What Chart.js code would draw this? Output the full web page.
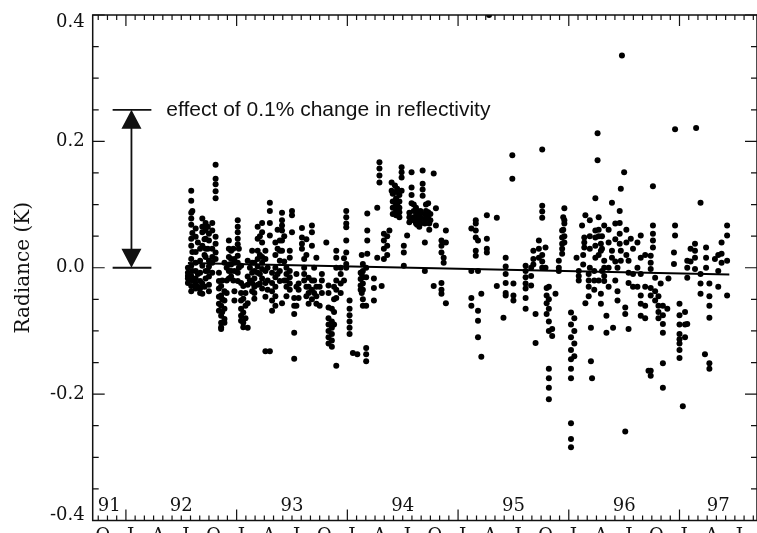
<!DOCTYPE html>
<html>
<head>
<meta charset="utf-8">
<script src="https://cdn.jsdelivr.net/npm/chart.js@4.4.0/dist/chart.umd.min.js"></script>
<style>
  html, body { margin: 0; padding: 0; background: #fff; overflow: hidden; width: 757px; height: 533px; }
  #wrap { position: absolute; left: 0; top: 0; width: 760px; height: 533px; }
</style>
</head>
<body>
<div id="wrap"><canvas id="chart"></canvas></div>
<script>
// Radiance residuals per observing pass: [decimal year, [values in K]]
const obs1992 = [
  [1992.56, [0.0, -0.008, -0.017, -0.024, -0.013]],
  [1992.59, [0.122, 0.106, 0.087, 0.078, 0.068, 0.046, 0.035, 0.014, 0.003, -0.013, -0.029, -0.037]],
  [1992.60, [0.090, 0.055, 0.025, -0.005, -0.020]],
  [1992.63, [0.062, 0.049, 0.025, 0.008, -0.005, -0.017, -0.025, -0.033]],
  [1992.65, [0.040, -0.010, -0.030]],
  [1992.67, [0.030, 0.011, -0.008, -0.021, -0.033, -0.040]],
  [1992.69, [0.078, 0.065, 0.056, 0.035, 0.003, -0.025, -0.041]],
  [1992.71, [0.045, 0.020, -0.030]],
  [1992.72, [0.071, 0.059, 0.046, 0.030, 0.017, -0.005, -0.017]],
  [1992.74, [0.065, 0.030, -0.005]],
  [1992.75, [0.054, 0.043, 0.011, 0.002, -0.014, -0.027, -0.037]],
  [1992.78, [0.071, 0.059, 0.030, 0.017, 0.008, -0.008]],
  [1992.81, [0.163, 0.141, 0.132, 0.121, 0.110, 0.049, 0.038, 0.024, 0.014]],
  [1992.84, [-0.008, -0.021, -0.033, -0.046, -0.057, -0.068]],
  [1992.86, [-0.029, -0.044, -0.060, -0.076, -0.087, -0.094, -0.097]],
  [1992.87, [-0.070, -0.050, -0.020]],
  [1992.89, [0.008, -0.037, -0.052, -0.065, -0.081, -0.087]],
  [1992.91, [0.000, -0.020, -0.040]],
  [1992.93, [0.043, 0.030, 0.017, 0.005, -0.005, -0.017]],
  [1992.95, [0.027, 0.014, 0.005, -0.005, -0.014]],
  [1992.97, [0.030, -0.020]],
  [1992.98, [0.014, 0.008, -0.005, -0.037, -0.052]]
];
const obs1993 = [
  [1993.01, [0.075, 0.065, 0.056, 0.046, 0.037, 0.019, 0.008, -0.008, -0.021]],
  [1993.02, [0.030, 0.000]],
  [1993.04, [0.003, -0.024, -0.040, -0.052, -0.065, -0.076, -0.084]],
  [1993.06, [-0.029, -0.049, -0.071, -0.087, -0.094]],
  [1993.08, [-0.040, -0.060, -0.080]],
  [1993.10, [0.011, -0.014, -0.027, -0.056, -0.095]],
  [1993.12, [0.000, -0.020]],
  [1993.14, [0.027, 0.008, -0.008, -0.024, -0.037]],
  [1993.16, [0.008, -0.005, -0.017, -0.030, -0.040, -0.049]],
  [1993.19, [0.065, 0.046, 0.027, 0.014, 0.002, -0.008, -0.027]],
  [1993.21, [0.050, 0.020, -0.010, -0.025]],
  [1993.23, [0.071, 0.056, 0.040, 0.017, 0.008, -0.002, -0.017, -0.033]],
  [1993.26, [0.027, 0.014, -0.005, -0.024, -0.046, -0.132]],
  [1993.28, [0.000, -0.020, -0.035]],
  [1993.30, [0.103, 0.090, 0.071, 0.051, -0.132]],
  [1993.32, [-0.008, -0.024, -0.037, -0.052, -0.068]],
  [1993.35, [0.040, 0.020, 0.000, -0.015, -0.030, -0.045, -0.060]],
  [1993.37, [0.060, 0.030, -0.010]],
  [1993.39, [0.043, 0.027, 0.011, -0.005, -0.021]],
  [1993.41, [0.087, 0.075, 0.067, 0.059, 0.043, 0.027, -0.056]],
  [1993.43, [0.050, 0.010, -0.020]],
  [1993.45, [0.000, -0.010, -0.020, -0.030, -0.045]],
  [1993.48, [0.027, 0.016, -0.005, -0.015, -0.025, -0.035]],
  [1993.50, [0.090, 0.083, 0.056]],
  [1993.52, [-0.048, -0.060, -0.073, -0.103, -0.144]],
  [1993.54, [-0.010, -0.030, -0.060]],
  [1993.56, [-0.025, -0.035, -0.048]],
  [1993.59, [0.063, 0.048, 0.038, 0.030]],
  [1993.61, [0.014, 0.000, -0.010, -0.020]],
  [1993.63, [0.045, 0.020, -0.030, -0.045]],
  [1993.65, [-0.016, -0.030, -0.040, -0.057]],
  [1993.68, [0.067, 0.056, 0.035, -0.020, -0.035, -0.050]],
  [1993.70, [0.000, -0.020, -0.040]],
  [1993.72, [0.016, -0.030, -0.045, -0.057]],
  [1993.75, [-0.030, -0.060]],
  [1993.77, [-0.010, -0.020, -0.040]],
  [1993.81, [0.040]],
  [1993.83, [-0.028, -0.040, -0.063, -0.080, -0.090, -0.100, -0.110, -0.120]],
  [1993.86, [-0.065, -0.085, -0.095, -0.105, -0.115, -0.125]],
  [1993.88, [-0.030, -0.050, -0.070, -0.090]],
  [1993.90, [0.027, 0.016, 0.000, -0.020, -0.035, -0.048, -0.155]],
  [1993.94, [0.000, -0.010, -0.025, -0.040]],
  [1993.97, [0.015, -0.020]],
  [1993.99, [0.090, 0.080, 0.070, 0.064, 0.043, 0.024, 0.006, 0.000]]
];
const obs1994 = [
  [1994.02, [-0.052, -0.065, -0.075, -0.085, -0.095, -0.105]],
  [1994.05, [-0.135]],
  [1994.09, [-0.137]],
  [1994.12, [-0.008, -0.018, -0.028, -0.035]],
  [1994.13, [0.020, -0.010, -0.040]],
  [1994.14, [0.006, -0.005, -0.015, -0.025, -0.035, -0.050, -0.060]],
  [1994.17, [0.000, -0.015, -0.060, -0.127, -0.137, -0.148]],
  [1994.18, [0.086, 0.059, 0.043, 0.022]],
  [1994.24, [-0.017, -0.032, -0.052]],
  [1994.27, [0.095, 0.016]],
  [1994.29, [0.167, 0.157, 0.146, 0.135]],
  [1994.31, [-0.029]],
  [1994.33, [0.054, 0.043, 0.030, 0.014]],
  [1994.36, [0.050, 0.035, 0.020]],
  [1994.38, [0.059]],
  [1994.40, [0.135, 0.122]],
  [1994.41, [0.117, 0.105, 0.095, 0.085]],
  [1994.43, [0.130, 0.105, 0.095]],
  [1994.44, [0.120, 0.110, 0.100, 0.090, 0.083]],
  [1994.45, [0.125, 0.100, 0.085]],
  [1994.47, [0.115, 0.105, 0.095, 0.088, 0.080]],
  [1994.49, [0.159, 0.151, 0.143, 0.122]],
  [1994.51, [0.035, 0.024, 0.003]],
  [1994.54, [0.051]],
  [1994.56, [0.087, 0.080, 0.072]],
  [1994.58, [0.151, 0.127, 0.115, 0.102]],
  [1994.60, [0.100, 0.090, 0.080, 0.075]],
  [1994.62, [0.095, 0.082, 0.070]],
  [1994.63, [0.090, 0.085, 0.075, 0.068]],
  [1994.65, [0.085, 0.075, 0.065]],
  [1994.66, [0.090, 0.080, 0.070]],
  [1994.68, [0.154, 0.133, 0.124, 0.114]],
  [1994.70, [0.085, 0.075, 0.070, 0.040, -0.005]],
  [1994.71, [0.100, 0.090, 0.080]],
  [1994.73, [0.102, 0.088, 0.078]],
  [1994.74, [0.070, 0.060]],
  [1994.75, [0.085, 0.075]],
  [1994.78, [0.149, -0.029]],
  [1994.80, [0.094, 0.067]],
  [1994.85, [0.043, 0.035, 0.024, -0.024, -0.035, -0.041]],
  [1994.87, [0.016, 0.008]],
  [1994.89, [0.059, 0.040, -0.056]]
];
const obs1995 = [
  [1995.12, [0.062, -0.005, -0.048, -0.060]],
  [1995.16, [0.075, 0.070, 0.059, 0.048, 0.027, 0.019]],
  [1995.18, [0.043, -0.005, -0.068, -0.084, -0.110]],
  [1995.21, [-0.041, -0.141]],
  [1995.26, [0.083, 0.046, 0.030, 0.024]],
  [1995.28, [0.400]],
  [1995.35, [0.079, -0.029]],
  [1995.41, [-0.079]],
  [1995.43, [0.016, 0.002, -0.010, -0.024, -0.040, -0.044]],
  [1995.49, [0.178, 0.141]],
  [1995.50, [-0.025, -0.044, -0.052]],
  [1995.61, [0.003, -0.005, -0.015, -0.025, -0.033, -0.048, -0.065]],
  [1995.66, [0.000, -0.013, -0.028]],
  [1995.68, [0.027, 0.014, 0.005]],
  [1995.70, [-0.073, -0.119]],
  [1995.73, [0.043, 0.030, 0.016]],
  [1995.76, [0.187, 0.098, 0.089, 0.079, 0.020, 0.010, 0.000]],
  [1995.79, [0.032, 0.000]],
  [1995.80, [-0.032, -0.044, -0.056, -0.073]],
  [1995.82, [-0.030, -0.050, -0.065, -0.085, -0.100, -0.160, -0.175, -0.190, -0.208]],
  [1995.85, [-0.097, -0.108]],
  [1995.88, [-0.041]],
  [1995.91, [0.011, 0.000, -0.005]],
  [1995.94, [0.059, 0.048, 0.038, 0.030, 0.022]],
  [1995.95, [0.080, 0.060]],
  [1995.96, [0.094, 0.075, 0.070, 0.050, 0.040]]
];
const obs1996 = [
  [1996.02, [-0.071, -0.090, -0.110, -0.130, -0.145, -0.160, -0.175, -0.246, -0.271, -0.284]],
  [1996.05, [-0.080, -0.100, -0.120, -0.140]],
  [1996.07, [0.016]],
  [1996.09, [-0.005, -0.013, -0.020]],
  [1996.12, [0.067]],
  [1996.13, [0.020, 0.005]],
  [1996.14, [0.048, 0.040, 0.032]],
  [1996.15, [0.083, -0.056]],
  [1996.18, [-0.010, -0.020, -0.030, -0.045]],
  [1996.19, [0.075, 0.050, 0.030, 0.000]],
  [1996.20, [-0.095, -0.148]],
  [1996.21, [-0.175]],
  [1996.23, [-0.005, -0.020, -0.035]],
  [1996.24, [0.110, 0.059, 0.048, 0.035, 0.016]],
  [1996.26, [0.213, 0.170]],
  [1996.27, [0.080, 0.060, 0.050, 0.020, -0.020]],
  [1996.29, [0.038, 0.027, -0.041, -0.057]],
  [1996.30, [0.050, 0.030, -0.005]],
  [1996.32, [0.067, 0.011, 0.000, -0.013, -0.021]],
  [1996.34, [-0.076, -0.103]],
  [1996.36, [0.060, 0.040, 0.000, -0.030]],
  [1996.39, [0.103, 0.027, 0.016]],
  [1996.40, [-0.095]],
  [1996.42, [0.070, 0.045, 0.010, -0.020]],
  [1996.44, [0.000, -0.037, -0.052]],
  [1996.46, [0.090, 0.071, 0.054, 0.038]],
  [1996.47, [0.125, 0.027, 0.011]],
  [1996.48, [0.336]],
  [1996.50, [0.151]],
  [1996.51, [-0.063, -0.073, -0.259]],
  [1996.52, [0.060, 0.040, 0.020]],
  [1996.54, [0.011, -0.008, -0.024, -0.097]],
  [1996.56, [0.046]],
  [1996.58, [0.030, -0.010, -0.030]],
  [1996.62, [0.040, 0.000, -0.030]],
  [1996.65, [0.051, 0.016, -0.010, -0.044, -0.057, -0.076]],
  [1996.69, [0.020, -0.030, -0.060, -0.080]],
  [1996.72, [-0.163]],
  [1996.74, [0.019, 0.008, -0.002, -0.032, -0.044, -0.163, -0.171]],
  [1996.76, [0.129, 0.067, 0.054, 0.043, 0.032]],
  [1996.78, [-0.016, -0.037, -0.052]],
  [1996.81, [-0.045, -0.060, -0.070, -0.080]],
  [1996.83, [-0.025]],
  [1996.85, [-0.060, -0.075, -0.089, -0.103, -0.151, -0.190]],
  [1996.89, [-0.065]],
  [1996.90, [-0.017]],
  [1996.95, [0.024, 0.006]],
  [1996.96, [0.219, 0.067, 0.051]]
];
const obs1997 = [
  [1997.00, [-0.057, -0.075, -0.090, -0.105, -0.113, -0.120, -0.130, -0.143]],
  [1997.03, [-0.219]],
  [1997.05, [-0.070, -0.090, -0.110]],
  [1997.07, [0.011, 0.000, -0.016, -0.089]],
  [1997.10, [0.030, 0.010]],
  [1997.14, [0.038, 0.027, 0.016, -0.002]],
  [1997.15, [0.221]],
  [1997.19, [0.103, -0.010, -0.025, -0.041]],
  [1997.23, [-0.137]],
  [1997.24, [0.032, 0.016, 0.000]],
  [1997.27, [-0.025, -0.045, -0.060, -0.079, -0.151, -0.160]],
  [1997.32, [0.014]],
  [1997.35, [0.020, -0.005, -0.030]],
  [1997.38, [0.040, 0.022, 0.008]],
  [1997.43, [0.067, 0.051, 0.011, -0.044]]
];

// Linear fit through the residuals
const trendYears = [1992.56, 1997.45];
const trendValues = [0.0075, -0.0105];

// Radiance change for a 0.1% reflectivity change
const reflectivityEffect = 0.25;

// Axis labelling
const yearLabels = ['91', '92', '93', '94', '95', '96', '97'];
const quarterLetters = ['J', 'A', 'J', 'O'];   // Jan, Apr, Jul, Oct
const yTickLabels = ['-0.4', '-0.2', '0.0', '0.2', '0.4'];

const X_MIN = 1991.7, X_MAX = 1997.7;

const points = [obs1992, obs1993, obs1994, obs1995, obs1996, obs1997]
  .flat()
  .flatMap(([t, vals]) => vals.map(v => ({ x: t, y: v })));
const trend = trendYears.map((t, i) => ({ x: t, y: trendValues[i] }));

const SERIF = '"DejaVu Serif", serif';
const INK = '#111';

const frame = {
  id: 'frame',
  afterDraw(chart) {
    const { ctx, chartArea: a, scales: { x, y } } = chart;
    ctx.save();
    ctx.strokeStyle = INK;
    ctx.fillStyle = INK;

    // box
    ctx.lineWidth = 1.5;
    ctx.strokeRect(a.left, a.top, a.right - a.left, a.bottom - a.top);

    // y ticks on both sides: minor every 0.05, major every 0.2
    ctx.lineWidth = 1.2;
    for (let k = -8; k <= 8; k++) {
      const py = y.getPixelForValue(k * 0.05);
      const len = k % 4 === 0 ? 12 : 6;
      ctx.beginPath();
      ctx.moveTo(a.left, py); ctx.lineTo(a.left + len, py);
      ctx.moveTo(a.right, py); ctx.lineTo(a.right - len, py);
      ctx.stroke();
    }

    // x ticks on top and bottom: monthly minor, yearly major
    for (let yr = 1991; yr <= 1998; yr++) {
      for (let m = 0; m < 12; m++) {
        const t = yr + m / 12;
        if (t < X_MIN || t > X_MAX) continue;
        const px = x.getPixelForValue(t);
        const len = m === 0 ? 11 : 5;
        ctx.beginPath();
        ctx.moveTo(px, a.top); ctx.lineTo(px, a.top + len);
        ctx.moveTo(px, a.bottom); ctx.lineTo(px, a.bottom - len);
        ctx.stroke();
      }
    }

    // y tick labels
    ctx.font = '18px ' + SERIF;
    ctx.textAlign = 'right';
    ctx.textBaseline = 'middle';
    yTickLabels.forEach(lbl => {
      const py = y.getPixelForValue(parseFloat(lbl));
      const ly = Math.min(Math.max(py, a.top + 7.5), a.bottom - 5);
      ctx.fillText(lbl, a.left - 8, ly);
    });

    // year labels inside the plot, centred in each year
    ctx.textAlign = 'center';
    ctx.textBaseline = 'alphabetic';
    yearLabels.forEach(lbl => {
      const yr = 1900 + parseInt(lbl, 10);
      const lo = Math.max(yr, X_MIN), hi = Math.min(yr + 1, X_MAX);
      ctx.fillText(lbl, x.getPixelForValue((lo + hi) / 2), a.bottom - 10);
    });

    // quarter letters under the axis, centred on the month
    for (let yr = 1991; yr <= 1997; yr++) {
      quarterLetters.forEach((L, q) => {
        const t = yr + (q * 3 + 0.5) / 12;
        if (t < X_MIN || t > X_MAX) return;
        ctx.fillText(L, x.getPixelForValue(t), a.bottom + 20);
      });
    }

    // axis title
    ctx.save();
    ctx.translate(24, (a.top + a.bottom) / 2);
    ctx.rotate(-Math.PI / 2);
    ctx.font = '20px ' + SERIF;
    ctx.textBaseline = 'middle';
    ctx.fillText('Radiance (K)', 0, 0);
    ctx.restore();

    // reflectivity scale bar
    const ax = x.getPixelForValue(1992.05);
    const bl = x.getPixelForValue(1991.88), br = x.getPixelForValue(1992.23);
    const yt = y.getPixelForValue(reflectivityEffect);
    const yb = y.getPixelForValue(0);
    ctx.lineWidth = 1.8;
    ctx.beginPath();
    ctx.moveTo(bl, yt); ctx.lineTo(br, yt);
    ctx.moveTo(bl, yb); ctx.lineTo(br, yb);
    ctx.moveTo(ax, yt + 16); ctx.lineTo(ax, yb - 16);
    ctx.stroke();
    ctx.beginPath();
    ctx.moveTo(ax, yt); ctx.lineTo(ax - 10, yt + 19); ctx.lineTo(ax + 10, yt + 19); ctx.closePath();
    ctx.moveTo(ax, yb); ctx.lineTo(ax - 10, yb - 19); ctx.lineTo(ax + 10, yb - 19); ctx.closePath();
    ctx.fill();

    ctx.font = '21px "Liberation Sans", Arial, sans-serif';
    ctx.textAlign = 'left';
    ctx.textBaseline = 'middle';
    ctx.fillText('effect of 0.1% change in reflectivity', x.getPixelForValue(1992.365), yt);

    ctx.restore();
  }
};

new Chart(document.getElementById('chart'), {
  type: 'scatter',
  data: {
    datasets: [
      {
        label: 'Radiance',
        data: points,
        pointRadius: 3,
        pointHoverRadius: 3,
        backgroundColor: '#000',
        borderWidth: 0,
        order: 2
      },
      {
        label: 'Trend',
        data: trend,
        showLine: true,
        pointRadius: 0,
        borderColor: '#000',
        borderWidth: 2,
        order: 1
      }
    ]
  },
  options: {
    responsive: true,
    maintainAspectRatio: false,
    animation: false,
    devicePixelRatio: 1,
    layout: { padding: { left: 92.7, top: 15, right: 2.3, bottom: 12.5 } },
    plugins: { legend: { display: false }, tooltip: { enabled: false } },
    scales: {
      x: { type: 'linear', min: X_MIN, max: X_MAX, display: false },
      y: { min: -0.4, max: 0.4, display: false }
    }
  },
  plugins: [frame]
});
</script>
</body>
</html>
